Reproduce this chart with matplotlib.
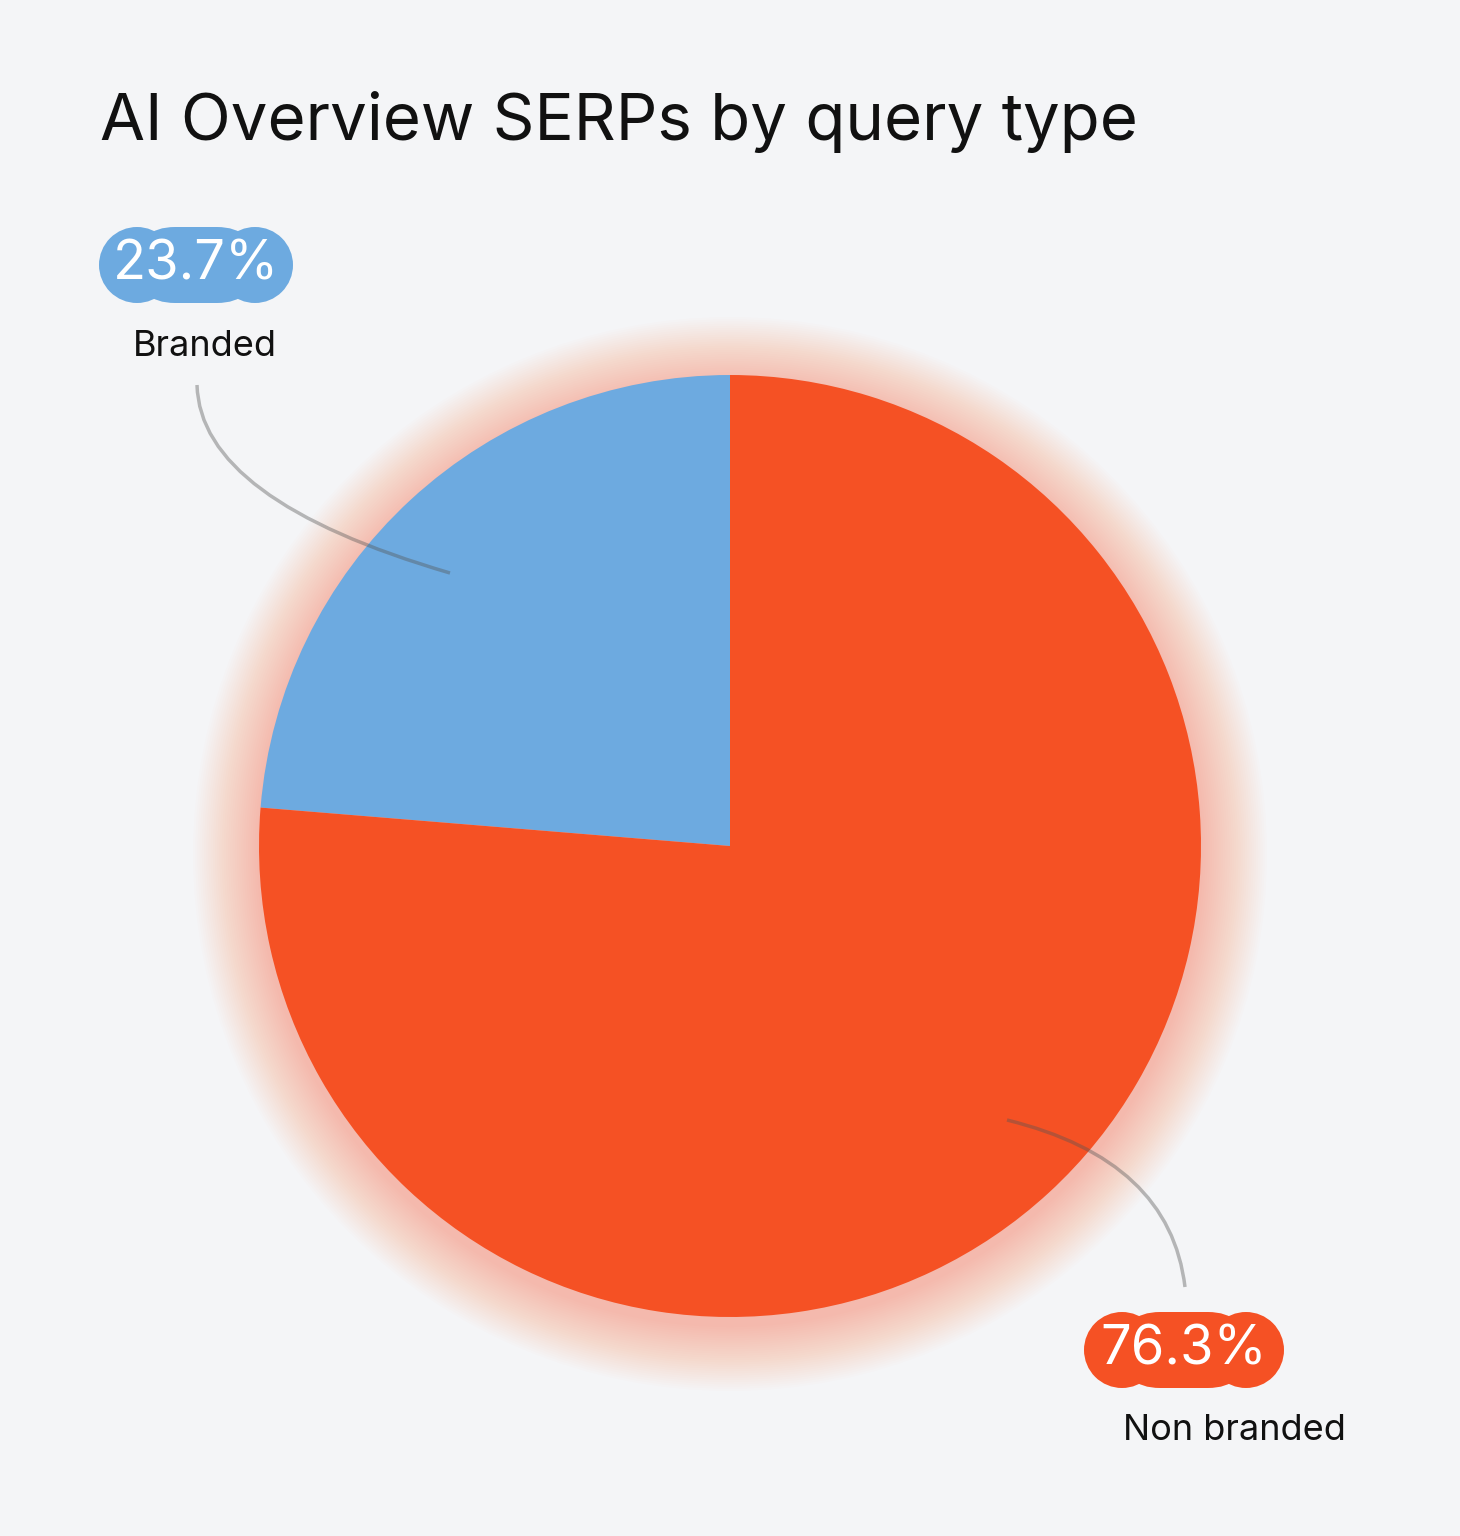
import matplotlib
matplotlib.use("Agg")
import matplotlib.pyplot as plt
from matplotlib.patches import Circle, FancyBboxPatch, PathPatch
from matplotlib.path import Path

labels = ["Branded", "Non branded"]
values = [23.7, 76.3]
pct_labels = ["23.7%", "76.3%"]
colors = ["#6DAAE0", "#F55124"]
bg = "#F4F5F7"

W, H = 1460, 1536
fig = plt.figure(figsize=(W/100, H/100), dpi=100, facecolor=bg)
ax = fig.add_axes([0, 0, 1, 1])
ax.set_xlim(0, W); ax.set_ylim(0, H); ax.axis("off"); ax.set_facecolor(bg)

cx, cy, r = 730, H - 846, 471
# soft glow
for i in range(30, 0, -1):
    ax.add_patch(Circle((cx, cy - 8), r + i * 2.2, color="#F55124", alpha=0.012, lw=0, zorder=1))
ax.pie(values, colors=colors, startangle=90, counterclock=True, center=(cx, cy), radius=r,
       wedgeprops=dict(linewidth=0, zorder=2))
ax.set_xlim(0, W); ax.set_ylim(0, H); ax.set_aspect("auto")

def curve(p0, p1, p2):
    pts = [(x, H - y) for x, y in (p0, p1, p2)]
    ax.add_patch(PathPatch(Path(pts, [Path.MOVETO, Path.CURVE3, Path.CURVE3]),
                           fc="none", ec="#555555", alpha=0.4, lw=2.5, zorder=3))
curve((197, 385), (200, 500), (450, 573))
curve((1007, 1120), (1170, 1160), (1185, 1287))

def pill(x, y, w, h, c, txt):
    ax.add_patch(FancyBboxPatch((x - w/2 + h/2, H - y - h/2), w - h, h,
                 boxstyle=f"round,pad=0,rounding_size={h/2}", fc=c, ec="none", zorder=4,
                 mutation_aspect=1))
    ax.add_patch(Circle((x - w/2 + h/2, H - y), h/2, fc=c, ec="none", zorder=4))
    ax.add_patch(Circle((x + w/2 - h/2, H - y), h/2, fc=c, ec="none", zorder=4))
    ax.text(x, H - y, txt, color="white", fontsize=39, ha="center", va="center",
            family="Inter", zorder=5)

pill(196, 265, 194, 76, colors[0], pct_labels[0])
pill(1184, 1350, 200, 76, colors[1], pct_labels[1])
ax.text(205, H - 346, labels[0], fontsize=26, ha="center", va="center", family="Inter", color="#111111")
ax.text(1234, H - 1430, labels[1], fontsize=26, ha="center", va="center", family="Inter", color="#111111")

ax.text(100, H - 122, "AI Overview SERPs by query type", fontsize=47, ha="left", va="center",
        family="Inter", color="#111111")

fig.savefig("out.png", dpi=100, facecolor=bg)
